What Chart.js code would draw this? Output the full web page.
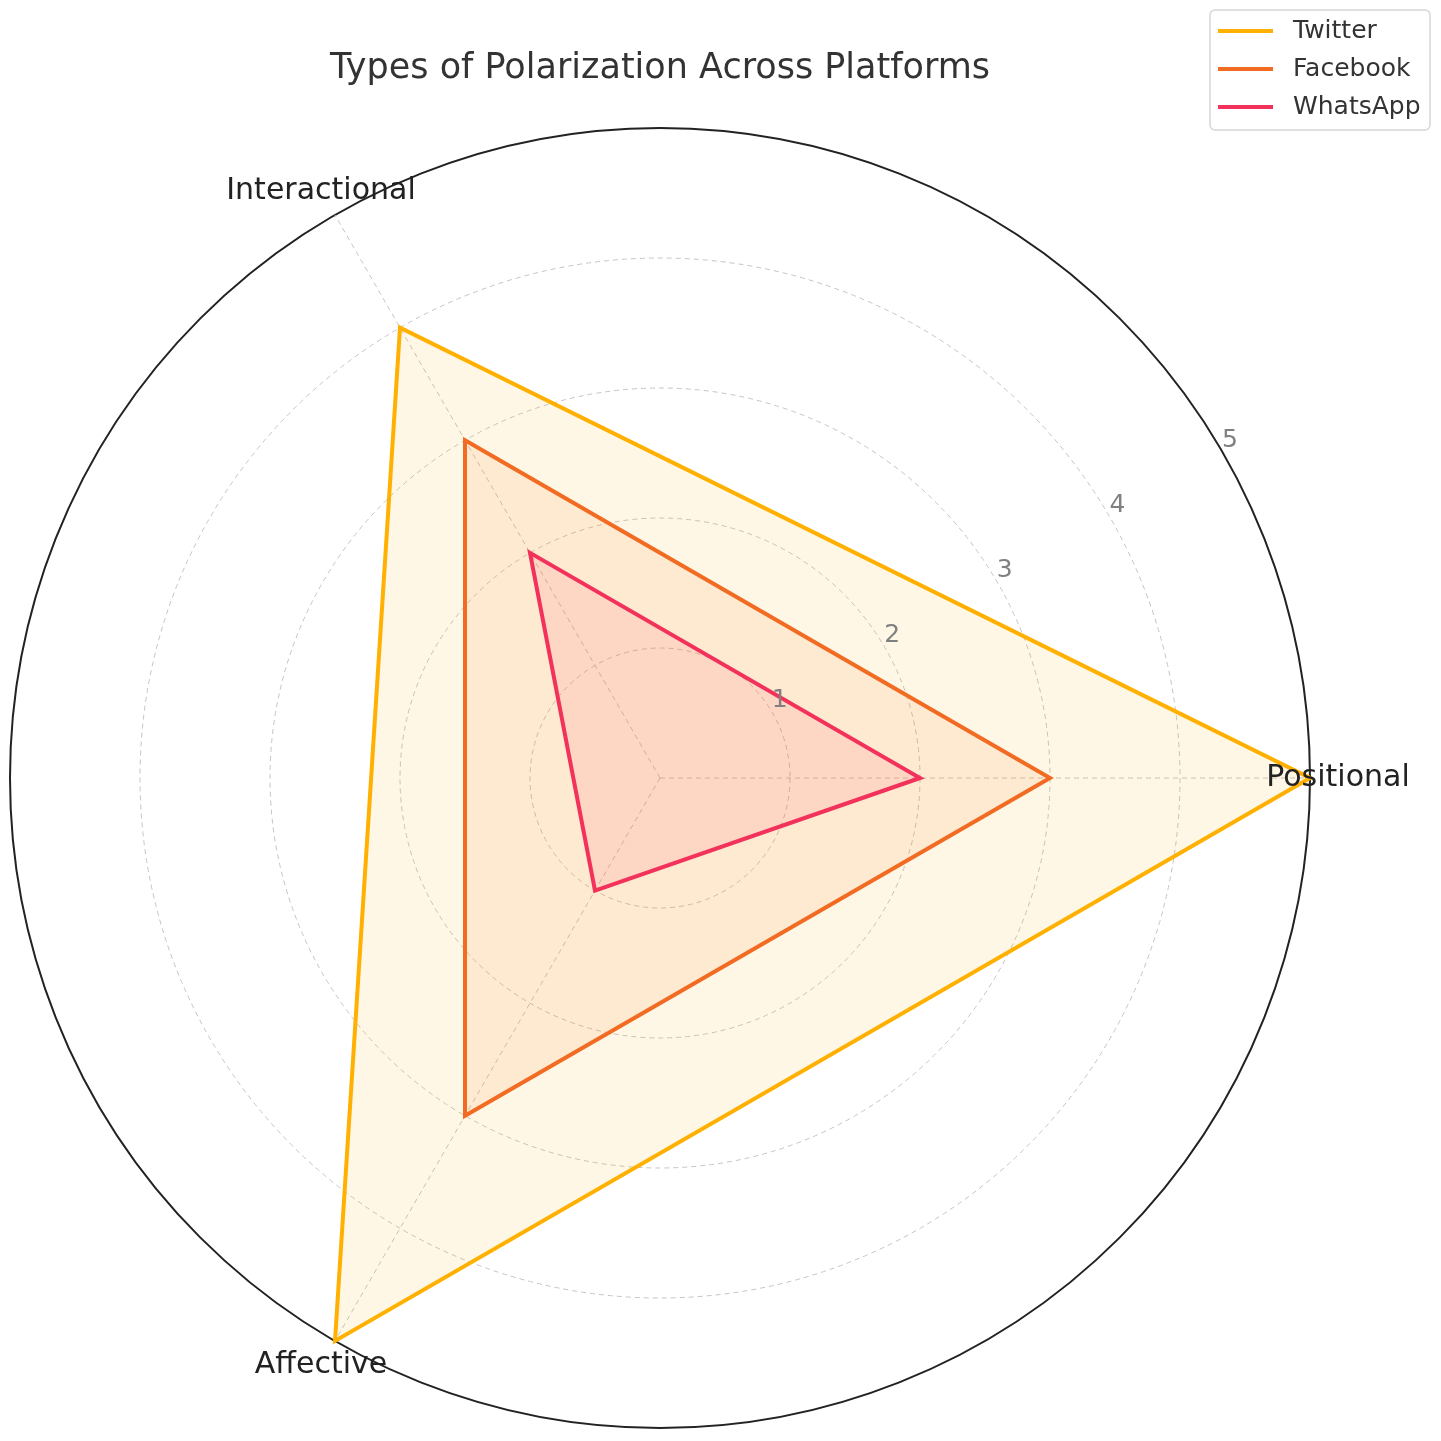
<!DOCTYPE html>
<html>
<head>
<meta charset="utf-8">
<script src="https://cdn.jsdelivr.net/npm/chart.js@4/dist/chart.umd.min.js"></script>
<style>
  body { margin: 0; background: #fff; }
</style>
</head>
<body>
<canvas id="radarChart" width="1441" height="1441"></canvas>
<script>
// categories in Chart.js order (clockwise from the right with startAngle 90)
const categories = ['Positional', 'Affective', 'Interactional'];
const twitter = [5, 5, 4];
const facebook = [3, 3, 3];
const whatsapp = [2, 1, 2];
const tickValues = [1, 2, 3, 4, 5];

const FONT = "'DejaVu Sans', sans-serif";

// axis labels, drawn on the circle like matplotlib does
const pointLabelPlugin = {
    id: 'pointLabelPlugin',
    afterDraw(chart) {
        const scale = chart.scales.r;
        const ctx = chart.ctx;
        ctx.save();
        ctx.font = '30px ' + FONT;
        ctx.fillStyle = '#222';
        ctx.textAlign = 'center';
        ctx.textBaseline = 'middle';
        categories.forEach((label, i) => {
            const p = scale.getPointPosition(i, scale.drawingArea + 28);
            ctx.fillText(label, p.x, p.y);
        });
        // radial tick labels at 30 degrees
        ctx.font = '25px ' + FONT;
        ctx.fillStyle = '#808080';
        const a = Math.PI / 6;
        tickValues.forEach(v => {
            const d = scale.getDistanceFromCenterForValue(v);
            ctx.fillText(String(v), scale.xCenter + d * Math.cos(a) + 7, scale.yCenter - d * Math.sin(a) - 13);
        });
        ctx.restore();
    }
};

// boxed legend in the top right corner
const boxLegendPlugin = {
    id: 'boxLegendPlugin',
    afterDraw(chart) {
        const ctx = chart.ctx;
        const right = chart.width - 11;
        const left = right - 220;
        const top = 10;
        const h = 120;
        ctx.save();
        ctx.beginPath();
        ctx.roundRect(left, top, right - left, h, 5);
        ctx.fillStyle = 'rgba(255,255,255,0.8)';
        ctx.fill();
        ctx.strokeStyle = '#d6d6d6';
        ctx.lineWidth = 1.5;
        ctx.stroke();
        ctx.font = '25px ' + FONT;
        ctx.textBaseline = 'middle';
        chart.data.datasets.forEach((ds, i) => {
            const y = top + 21 + i * 38;
            ctx.beginPath();
            ctx.moveTo(left + 8, y);
            ctx.lineTo(left + 63, y);
            ctx.strokeStyle = ds.borderColor;
            ctx.lineWidth = 4;
            ctx.stroke();
            ctx.fillStyle = '#333';
            ctx.fillText(ds.label, left + 83, y);
        });
        ctx.restore();
    }
};

const ctx = document.getElementById('radarChart').getContext('2d');
new Chart(ctx, {
    type: 'radar',
    data: {
        labels: categories,
        datasets: [
            {
                label: 'Twitter',
                data: twitter,
                borderColor: '#FFB000',
                backgroundColor: 'rgba(255,176,0,0.1)',
                fill: true,
                order: 3
            },
            {
                label: 'Facebook',
                data: facebook,
                borderColor: '#F26B22',
                backgroundColor: 'rgba(242,107,34,0.1)',
                fill: true,
                order: 2
            },
            {
                label: 'WhatsApp',
                data: whatsapp,
                borderColor: '#F2325A',
                backgroundColor: 'rgba(242,50,90,0.1)',
                fill: true,
                order: 1
            }
        ]
    },
    options: {
        responsive: false,
        animation: false,
        layout: { padding: { left: 10, right: 131, top: 10, bottom: 13 } },
        elements: {
            line: { borderWidth: 4, tension: 0, borderJoinStyle: 'miter' },
            point: { radius: 0, hoverRadius: 0 }
        },
        scales: {
            r: {
                min: 0,
                max: 5,
                startAngle: 90,
                ticks: { stepSize: 1, display: false },
                pointLabels: { display: false },
                grid: {
                    circular: true,
                    color: c => c.tick && c.tick.value === 5 ? '#222' : '#c4c4c4',
                    lineWidth: c => c.tick && c.tick.value === 5 ? 2 : 1
                },
                border: {
                    dash: c => c.tick && c.tick.value === 5 ? [] : [5, 4]
                },
                angleLines: {
                    color: '#c4c4c4',
                    lineWidth: 1,
                    borderDash: [5, 4]
                }
            }
        },
        plugins: {
            legend: { display: false },
            tooltip: { enabled: false },
            title: {
                display: true,
                text: 'Types of Polarization Across Platforms',
                color: '#333',
                font: { family: FONT, size: 35, weight: 'normal' },
                padding: { top: 38, bottom: 38 }
            }
        }
    },
    plugins: [pointLabelPlugin, boxLegendPlugin]
});
</script>
</body>
</html>
